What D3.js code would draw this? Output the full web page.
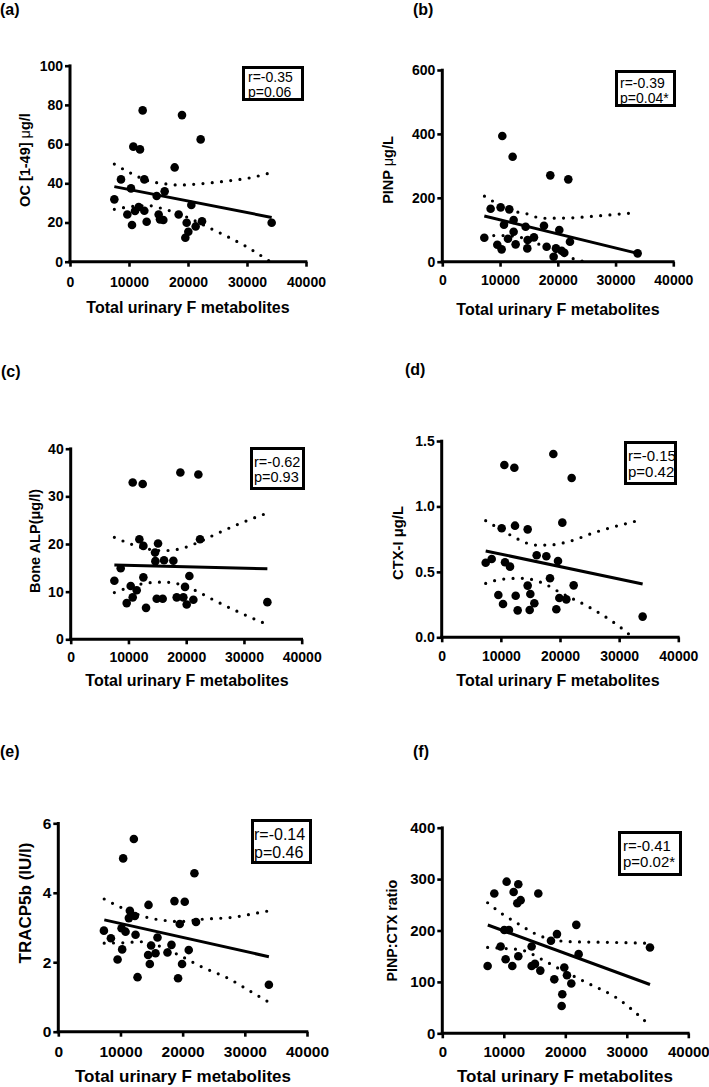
<!DOCTYPE html>
<html><head><meta charset="utf-8">
<script src="https://cdn.jsdelivr.net/npm/d3@7"></script>
<style>
body{margin:0;background:#fff}
svg{display:block}
text{font-family:"Liberation Sans",Arial,Helvetica,sans-serif;fill:#000}
</style>
</head><body>
<svg id="chart" width="709" height="1087"></svg>
<script>
// ---------- shared ----------
const xTicks = [0, 10000, 20000, 30000, 40000];
const xTitle = "Total urinary F metabolites";

// ---------- (a) OC ----------
const ocYTicks = [0, 20, 40, 60, 80, 100];
const ocPoints = [[7514,31.8],[8644,42.0],[10339,37.4],[9718,24.1],[10508,18.7],[10734,58.7],[11864,57.3],[11017,25.9],[11638,27.9],[12316,77.2],[12599,42.0],[12599,26.0],[12994,20.4],[14689,33.5],[15028,24.1],[15254,21.6],[15819,21.3],[16045,35.9],[17740,48.1],[18418,24.1],[18983,74.8],[19774,19.9],[19548,12.2],[20056,15.3],[20565,28.9],[21299,18.0],[22147,62.4],[22373,20.6],[34181,19.9]];
const ocFit = [[7514,38.3],[34181,22.6]];
const ocUpper = [[7514,49.8],[10339,45.1],[13277,41.2],[16000,39.8],[18600,39.1],[21000,39.5],[24000,40.3],[27000,41.3],[30000,42.5],[34181,45.5]];
const ocLower = [[7514,26.7],[10339,28.1],[13277,28.6],[16000,26.8],[18600,24.3],[21000,21.1],[24000,16.7],[27000,12.3],[30000,7.5],[34181,-0.5]];
const ocStats = ["r=-0.35", "p=0.06"];

// ---------- (b) PINP ----------
const pinpYTicks = [0, 200, 400, 600];
const pinpPoints = [[7273,75.1],[8370,165.9],[9524,53.2],[10101,170.1],[10274,38.6],[10390,393.4],[10678,115.8],[11371,72.0],[11602,163.8],[12179,328.7],[12352,130.4],[12352,93.9],[12698,54.3],[14430,109.6],[14719,41.7],[14776,67.8],[15873,76.2],[17605,112.7],[18066,47.0],[18701,270.3],[19278,15.7],[19683,41.7],[20260,99.1],[20664,34.4],[21126,28.2],[21818,257.7],[22107,62.6],[33824,26.1]];
const pinpFit = [[7273,143],[33824,26]];
const pinpUpper = [[7300,205],[8400,193],[12800,156],[14400,151],[17300,136],[22000,137],[26600,143],[33824,154]];
const pinpLower = [[7300,81],[10000,82],[12800,79],[15500,64],[18500,40],[21500,16],[24700,-1],[33824,-100]];
const pinpStats = ["r=-0.39", "p=0.04*"];

// ---------- (c) Bone ALP ----------
const balpYTicks = [0, 10, 20, 30, 40];
const balpPoints = [[7561,12.3],[8658,14.9],[9697,7.6],[10390,11.2],[10736,32.9],[10736,8.8],[11429,10.3],[11890,21.0],[12468,32.6],[12583,19.6],[12583,13.0],[13045,6.6],[14603,18.2],[14661,16.4],[15123,20.1],[14892,8.5],[15931,8.5],[16162,16.6],[17778,16.5],[18355,8.8],[18990,35.0],[19509,8.8],[19798,11.0],[20087,7.3],[20548,13.3],[21241,8.3],[22107,34.6],[22395,21.0],[34055,7.8]];
const balpFit = [[7561,15.6],[34055,14.8]];
const balpUpper = [[7561,21.4],[10400,20.0],[13160,19.0],[16000,18.6],[19000,19.0],[22000,20.3],[25000,22.0],[29300,24.3],[34055,26.5]];
const balpLower = [[7561,9.8],[10400,11.0],[13160,11.8],[16000,12.0],[19000,11.5],[22000,10.0],[25000,8.1],[29300,5.6],[34055,3.1]];
const balpStats = ["r=-0.62", "p=0.93"];

// ---------- (d) CTX-I ----------
const ctxYTicks = [0, 0.5, 1.0, 1.5];
const ctxPoints = [[7437,0.570],[8451,0.598],[9577,0.323],[10141,0.833],[10366,0.255],[10592,1.317],[10704,0.573],[11549,0.540],[12282,1.296],[12394,0.853],[12507,0.318],[12845,0.206],[14535,0.825],[14535,0.395],[14873,0.209],[14986,0.331],[15662,0.260],[16056,0.627],[17690,0.619],[18310,0.451],[18873,1.401],[19380,0.214],[19662,0.583],[19887,0.300],[20394,0.876],[21070,0.290],[21972,1.217],[22310,0.397],[33972,0.158]];
const ctxFit = [[7437,0.660],[33972,0.407]];
const ctxUpper = [[7437,0.891],[10141,0.820],[12958,0.749],[15775,0.705],[18028,0.705],[21408,0.731],[25915,0.802],[31800,0.876],[33972,0.900]];
const ctxLower = [[7437,0.412],[10141,0.443],[13521,0.451],[16901,0.418],[20282,0.336],[24789,0.234],[29296,0.107],[31800,0.018],[33972,-0.080]];
const ctxStats = ["r=-0.15", "p=0.42"];

// ---------- (e) TRACP5b ----------
const tracpYTicks = [0, 2, 4, 6];
const tracpPoints = [[7335,2.91],[8459,2.69],[9534,2.08],[10273,2.37],[10433,4.99],[10177,2.98],[10819,2.88],[11509,3.48],[11348,3.27],[12151,5.55],[12311,3.33],[12424,2.79],[12745,1.57],[14510,3.65],[14446,2.21],[14719,1.95],[14928,2.48],[15634,2.26],[15955,2.71],[17560,2.28],[18202,2.50],[18684,3.76],[19262,1.54],[19534,3.10],[19904,1.95],[20337,3.74],[20979,2.35],[21894,4.56],[22151,3.16],[33868,1.35]];
const tracpFit = [[7400,3.22],[33868,2.16]];
const tracpUpper = [[7383,3.82],[10064,3.58],[14286,3.29],[17287,3.20],[19534,3.17],[23274,3.24],[27833,3.29],[32376,3.43],[33868,3.48]];
const tracpLower = [[7383,2.55],[10433,2.56],[13387,2.59],[16000,2.48],[19005,2.24],[23274,1.85],[27287,1.54],[31300,1.12],[33868,0.85]];
const tracpStats = ["r=-0.14", "p=0.46"];

// ---------- (f) PINP:CTX ----------
const ratioYTicks = [0, 100, 200, 300, 400];
const ratioPoints = [[7371,131],[8455,272],[9485,169],[10081,201],[10298,144],[10461,295],[10840,201],[11382,131],[11599,275],[12195,253],[12358,290],[12358,150],[12737,259],[14526,169],[14526,131],[15068,135],[15610,272],[15935,122],[17669,180],[18211,105],[18645,193],[19404,53],[19512,76],[19837,128],[20271,113],[20976,97],[21789,211],[22168,154],[33767,167]];
const ratioFit = [[7400,210.7],[33772,95]];
const ratioUpper = [[7371,254],[9648,233],[12358,213],[15068,194],[18320,181],[21572,178],[26992,177],[33772,175]];
const ratioLower = [[7371,167],[10190,165],[12900,162],[16160,144],[19400,123],[23740,97],[28080,71],[33772,15]];
const ratioStats = ["r=-0.41", "p=0.02*"];

// ---------- panels (data + layout) ----------
const panels = [
  {id:"a", label:"(a)", yTitle:["OC [1-49] ", "μg/l"], ticks:ocYTicks, fmt:d3.format("d"), points:ocPoints, fit:ocFit, upper:ocUpper, lower:ocLower, stats:ocStats,
   L:{x0:70, x1:306, yT:65.7, yB:261.7, lab:[0,14.5], tickBase:287, tickFs:14, titleX:188, titleBase:313, titleFs:16, yt:[25,160], ytFs:14.5, muNormal:true, box:[242,66,62,35], bt:[248,82,97], btFs:14}},
  {id:"b", label:"(b)", yTitle:["PINP ", "μg/L"], ticks:pinpYTicks, fmt:d3.format("d"), points:pinpPoints, fit:pinpFit, upper:pinpUpper, lower:pinpLower, stats:pinpStats,
   L:{x0:442.3, x1:673.3, yT:70, yB:261.7, lab:[413,14.5], tickBase:285, tickFs:14, titleX:558, titleBase:315, titleFs:16, yt:[388.3,170], ytFs:14.5, muNormal:true, box:[615,70,61,37], bt:[620,87.5,102.5], btFs:14}},
  {id:"c", label:"(c)", yTitle:["Bone ALP(μg/l)"], ticks:balpYTicks, fmt:d3.format("d"), points:balpPoints, fit:balpFit, upper:balpUpper, lower:balpLower, stats:balpStats,
   L:{x0:70.7, x1:301.7, yT:448.7, yB:639.3, lab:[1,377], tickBase:662, tickFs:14, titleX:187, titleBase:686, titleFs:16, yt:[35,541], ytFs:14.5, box:[250,447,55,43], bt:[254,466.5,482], btFs:14.5}},
  {id:"d", label:"(d)", yTitle:["CTX-I μg/L"], ticks:ctxYTicks, fmt:d3.format(".1f"), points:ctxPoints, fit:ctxFit, upper:ctxUpper, lower:ctxLower, stats:ctxStats,
   L:{x0:441.7, x1:678.3, yT:441, yB:637.3, lab:[405,375], tickBase:661, tickFs:14, titleX:558, titleBase:686, titleFs:16, yt:[398.3,543], ytFs:14.8, box:[624,441,53,44], bt:[628,460.5,476.5], btFs:15}},
  {id:"e", label:"(e)", yTitle:["TRACP5b (IU/l)"], ticks:tracpYTicks, fmt:d3.format("d"), points:tracpPoints, fit:tracpFit, upper:tracpUpper, lower:tracpLower, stats:tracpStats,
   L:{x0:58.3, x1:307, yT:823.3, yB:1031.7, lab:[0,757], tickBase:1057, tickFs:15.5, titleX:183, titleBase:1082, titleFs:17, yt:[25,903], ytFs:17, box:[251,819,61,45], bt:[254,839.5,857.5], btFs:16}},
  {id:"f", label:"(f)", yTitle:["PINP:CTX ratio"], ticks:ratioYTicks, fmt:d3.format("d"), points:ratioPoints, fit:ratioFit, upper:ratioUpper, lower:ratioLower, stats:ratioStats,
   L:{x0:442.3, x1:688.3, yT:827.7, yB:1033.3, lab:[413,757], tickBase:1057, tickFs:15, titleX:565, titleBase:1082, titleFs:17, yt:[392.3,930.7], ytFs:14.3, box:[618,831,64,45], bt:[623,850.5,867], btFs:15}}
];

const svg = d3.select("#chart");
const defs = svg.append("defs");

function drawPanel(p) {
  const L = p.L;
  const x = d3.scaleLinear().domain([xTicks[0], xTicks[xTicks.length-1]]).range([L.x0, L.x1]);
  const y = d3.scaleLinear().domain([p.ticks[0], p.ticks[p.ticks.length-1]]).range([L.yB, L.yT]);
  const g = svg.append("g").attr("class", "panel-" + p.id);

  const cid = "clip-" + p.id;
  defs.append("clipPath").attr("id", cid).append("rect")
    .attr("x", L.x0).attr("y", L.yT - 30).attr("width", L.x1 - L.x0 + 20).attr("height", L.yB - L.yT + 30);

  // confidence bands (dotted)
  const band = d3.line().x(d => x(d[0])).y(d => y(d[1])).curve(d3.curveMonotoneX);
  [p.upper, p.lower].forEach(b => {
    g.append("path").attr("d", band(b)).attr("clip-path", `url(#${cid})`)
      .attr("fill", "none").attr("stroke", "#000").attr("stroke-width", 3.2)
      .attr("stroke-linecap", "round").attr("stroke-dasharray", "0 9.3");
  });

  // points
  g.append("g").selectAll("circle").data(p.points).join("circle")
    .attr("cx", d => x(d[0])).attr("cy", d => y(d[1])).attr("r", 4.3).attr("fill", "#000");

  // fit line
  g.append("path").attr("d", d3.line().x(d => x(d[0])).y(d => y(d[1]))(p.fit))
    .attr("fill", "none").attr("stroke", "#000").attr("stroke-width", 3);

  // axes ticks
  const ya = g.append("g").attr("transform", `translate(${L.x0},0)`)
    .call(d3.axisLeft(y).tickValues(p.ticks).tickFormat(p.fmt).tickSize(5).tickSizeOuter(0).tickPadding(2));
  ya.select(".domain").remove();
  ya.attr("font-family", null).attr("font-size", null);
  ya.selectAll(".tick line").attr("stroke-width", 2.6).attr("stroke", "#000");
  ya.selectAll(".tick text").attr("font-size", L.tickFs).attr("font-weight", "bold").attr("fill", "#000");

  const xa = g.append("g").attr("transform", `translate(0,${L.yB})`)
    .call(d3.axisBottom(x).tickValues(xTicks).tickFormat(d3.format("d")).tickSize(5).tickSizeOuter(0));
  xa.select(".domain").remove();
  xa.attr("font-family", null).attr("font-size", null);
  xa.selectAll(".tick line").attr("stroke-width", 2.6).attr("stroke", "#000");
  xa.selectAll(".tick text").attr("font-size", L.tickFs).attr("font-weight", "bold").attr("fill", "#000")
    .attr("y", L.tickBase - L.yB).attr("dy", 0);

  // axis lines
  g.append("line").attr("x1", L.x0).attr("x2", L.x0).attr("y1", L.yT - 1.3).attr("y2", L.yB + 1.5)
    .attr("stroke", "#000").attr("stroke-width", 3);
  g.append("line").attr("x1", L.x0 - 1.5).attr("x2", L.x1 + 1.3).attr("y1", L.yB).attr("y2", L.yB)
    .attr("stroke", "#000").attr("stroke-width", 3);

  // x title
  g.append("text").attr("x", L.titleX).attr("y", L.titleBase).attr("text-anchor", "middle")
    .attr("font-size", L.titleFs).attr("font-weight", "bold").text(xTitle);

  // y title
  const yt = g.append("text").attr("transform", `translate(${L.yt[0]},${L.yt[1]}) rotate(-90)`)
    .attr("text-anchor", "middle").attr("dominant-baseline", "central")
    .attr("font-size", L.ytFs).attr("font-weight", "bold");
  p.yTitle.forEach((s, i) => {
    const ts = yt.append("tspan").text(s);
    if (i === 1 && L.muNormal) {
      ts.text(null);
      ts.append("tspan").attr("font-weight", "normal").text(s.slice(0,1));
      ts.append("tspan").text(s.slice(1));
    }
  });

  // panel label
  g.append("text").attr("x", L.lab[0]).attr("y", L.lab[1]).attr("font-size", 16)
    .attr("font-weight", "bold").text(p.label);

  // stats box
  const [bx, by, bw, bh] = L.box;
  g.append("rect").attr("x", bx + 1.5).attr("y", by + 1.5).attr("width", bw - 3).attr("height", bh - 3)
    .attr("fill", "#fff").attr("stroke", "#000").attr("stroke-width", 3);
  p.stats.forEach((s, i) => {
    g.append("text").attr("x", L.bt[0]).attr("y", L.bt[1 + i]).attr("font-size", L.btFs).text(s);
  });
}

panels.forEach(drawPanel);
</script>
</body></html>
